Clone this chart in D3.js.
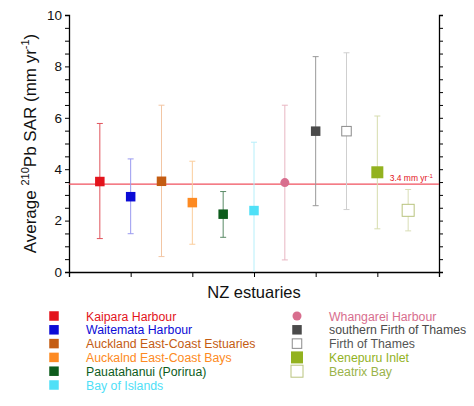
<!DOCTYPE html>
<html>
<head>
<meta charset="utf-8">
<script src="https://cdn.jsdelivr.net/npm/d3@7"></script>
<style>
  body { margin: 0; background: #fff; }
  text { font-family: "Liberation Sans", Arial, sans-serif; }
</style>
</head>
<body>
<div id="chart"></div>
<script>
// estuaries, in plotting order (x = 1..11)
const estuaries = ["Kaipara Harbour", "Waitemata Harbour", "Auckland East-Coast Estuaries",
  "Auckalnd East-Coast Bays", "Pauatahanui (Porirua)", "Bay of Islands", "Whangarei Harbour",
  "southern Firth of Thames", "Firth of Thames", "Kenepuru Inlet", "Beatrix Bay"];
const sar = [3.52, 2.93, 3.53, 2.70, 2.25, 2.39, 3.48, 5.48, 5.48, 3.88, 2.40];
const sarHigh = [5.78, 4.40, 6.49, 4.31, 3.13, 5.05, 6.49, 8.38, 8.53, 6.07, 3.21];
const sarLow = [1.30, 1.49, 0.60, 1.08, 1.35, 0.0, 0.47, 2.58, 2.43, 1.68, 1.60];
const meanSar = 3.42;
const yTicks = [0, 2, 4, 6, 8, 10];
const xTicks = [0, 2, 4, 6, 8, 10, 12];

const colors = ["#e3141c", "#0b0bd6", "#c45c12", "#fd8a22", "#0d5c1c", "#4fe0f7",
  "#d86e8e", "#4a4a4a", "#8a8a8a", "#93b21f", "#b9c47e"];
const barColors = ["#e0545c", "#9a9af0", "#f2c6a4", "#fbcd9c", "#5a8a66", "#b6effa",
  "#e8b6c2", "#9a9a9a", "#cfcfcf", "#d6dcae", "#d9deb6"];
const shapes = ["sq", "sq", "sq", "sq", "sq", "sq", "circle", "sq", "open", "bigsq", "bigopen"];

const width = 474, height = 406,
      margin = {top: 15, right: 35, bottom: 134, left: 69};

const svg = d3.select("#chart").append("svg")
  .attr("width", width).attr("height", height);

const x = d3.scaleLinear().domain([0, 12]).range([margin.left, width - margin.right]);
const y = d3.scaleLinear().domain([0, 10]).range([height - margin.bottom, margin.top]);

const minor = d3.range(0, 10.01, 0.5);

// left axis
svg.append("g")
  .attr("transform", `translate(${margin.left},0)`)
  .call(d3.axisLeft(y).tickValues(minor).tickSize(4)
    .tickFormat(d => yTicks.includes(d) ? d : ""))
  .call(g => g.selectAll("text").attr("font-size", 13.5).attr("fill", "#111"))
  .call(g => g.select(".domain").attr("stroke-width", 1.3));

// right axis
svg.append("g")
  .attr("transform", `translate(${width - margin.right},0)`)
  .call(d3.axisRight(y).tickValues(minor).tickSize(4).tickFormat(""))
  .call(g => g.select(".domain").attr("stroke-width", 1.3));

// bottom axis
svg.append("g")
  .attr("transform", `translate(0,${y(0)})`)
  .call(d3.axisBottom(x).tickValues(xTicks).tickSize(5).tickFormat(""))
  .call(g => g.select(".domain").attr("stroke-width", 1.3));

// reference line
svg.append("line")
  .attr("x1", x(0)).attr("x2", x(12))
  .attr("y1", y(meanSar)).attr("y2", y(meanSar))
  .attr("stroke", "#f0505e").attr("stroke-width", 1.3);

const ref = svg.append("text")
  .attr("x", x(10.4)).attr("y", y(meanSar) - 3)
  .attr("font-size", 8.5).attr("fill", "#e3141c")
  .text("3.4 mm yr");
ref.append("tspan").attr("font-size", 6).attr("dy", -3).text("-1");

const data = estuaries.map((name, i) => ({
  name, i, v: sar[i], hi: sarHigh[i], lo: sarLow[i],
  color: colors[i], bar: barColors[i], shape: shapes[i]
}));

// error bars
const eb = svg.selectAll(".err").data(data).join("g").attr("class", "err")
  .attr("stroke", d => d.bar).attr("stroke-width", 1);
eb.append("line")
  .attr("x1", d => x(d.i + 1)).attr("x2", d => x(d.i + 1))
  .attr("y1", d => y(d.hi)).attr("y2", d => y(d.lo));
eb.append("line")
  .attr("x1", d => x(d.i + 1) - 3).attr("x2", d => x(d.i + 1) + 3)
  .attr("y1", d => y(d.hi)).attr("y2", d => y(d.hi));
eb.filter(d => d.lo > 0).append("line")
  .attr("x1", d => x(d.i + 1) - 3).attr("x2", d => x(d.i + 1) + 3)
  .attr("y1", d => y(d.lo)).attr("y2", d => y(d.lo));

function drawMarker(g, d, cx, cy) {
  if (d.shape === "circle") {
    g.append("circle").attr("cx", cx).attr("cy", cy).attr("r", 4.5).attr("fill", d.color);
  } else {
    const big = d.shape.startsWith("big");
    const open = d.shape.endsWith("open");
    const s = big ? 12 : 9.5;
    g.append("rect")
      .attr("x", cx - s / 2).attr("y", cy - s / 2)
      .attr("width", s).attr("height", s)
      .attr("fill", open ? "#fff" : d.color)
      .attr("stroke", open ? d.color : "none")
      .attr("stroke-width", 1);
  }
}

const pts = svg.append("g");
data.forEach(d => drawMarker(pts, d, x(d.i + 1), y(d.v)));

// axis titles
svg.append("text")
  .attr("x", (x(0) + x(12)) / 2).attr("y", 298)
  .attr("text-anchor", "middle").attr("font-size", 16.5).attr("fill", "#111")
  .text("NZ estuaries");

const yl = svg.append("text")
  .attr("transform", `translate(36,${(y(0) + y(10)) / 2}) rotate(-90)`)
  .attr("text-anchor", "middle").attr("font-size", 17).attr("fill", "#111");
yl.append("tspan").text("Average ");
yl.append("tspan").attr("font-size", 11).attr("dy", -7).text("210");
yl.append("tspan").attr("dy", 7).text("Pb SAR (mm yr");
yl.append("tspan").attr("font-size", 11).attr("dy", -7).text("-1");
yl.append("tspan").attr("dy", 7).text(")");

// legend
const leg = svg.append("g");
data.forEach((d, k) => {
  const col = k < 6 ? 0 : 1;
  const row = k < 6 ? k : k - 6;
  const mx = col === 0 ? 54 : 297;
  const my = 316 + row * 13.8;
  drawMarker(leg, d, mx, my);
  leg.append("text")
    .attr("x", mx + 32).attr("y", my + 4.5)
    .attr("font-size", 12.3)
    .attr("fill", d.shape === "open" ? "#555" : (d.shape === "bigopen" ? "#9ab34a" : d.color))
    .text(d.name);
});
</script>
</body>
</html>
